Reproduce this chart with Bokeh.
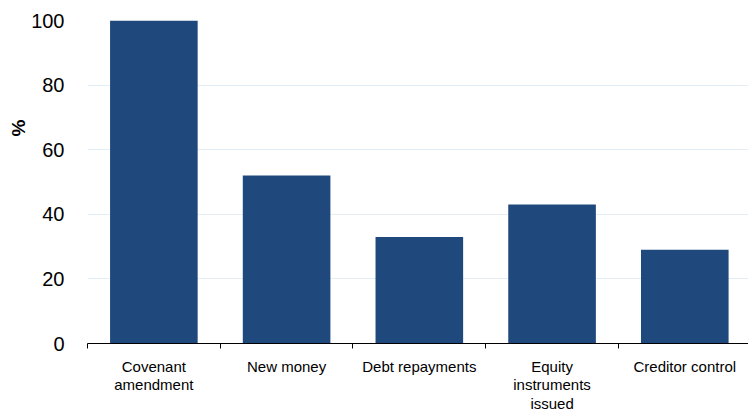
import math
from bokeh.plotting import figure
from bokeh.models import Range1d, FixedTicker, Title, ColumnDataSource
from bokeh.embed import file_html
from bokeh.resources import INLINE

categories = ["Covenant\namendment", "New money", "Debt repayments",
              "Equity\ninstruments\nissued", "Creditor control"]
values = [100, 52, 33, 43, 29]
y_ticks = [0, 20, 40, 60, 80, 100]

xpos = [i + 0.5 for i in range(len(categories))]
src = ColumnDataSource(dict(x=xpos, top=values))

p = figure(width=748, height=414, output_backend="svg", toolbar_location=None,
           x_range=Range1d(0, 4.98), y_range=Range1d(0, 100),
           min_border_left=87, min_border_right=0, min_border_top=20,
           min_border_bottom=71)
p.outline_line_color = None
p.background_fill_color = "white"

p.vbar(x="x", top="top", width=0.66, bottom=0, source=src,
       fill_color="#1f497d", line_color=None)

FONT = "Liberation Sans"

# x axis
xa = p.xaxis[0]
xa.ticker = FixedTicker(ticks=xpos, minor_ticks=list(range(len(categories) + 1)))
xa.major_label_overrides = {x: c for x, c in zip(xpos, categories)}
xa.major_tick_out = 0
xa.major_tick_in = 0
xa.minor_tick_out = 5
xa.minor_tick_in = 0
xa.minor_tick_line_color = "black"
xa.axis_line_color = "black"
xa.axis_line_width = 1
xa.major_label_text_font = FONT
xa.major_label_text_font_size = "15px"
xa.major_label_text_line_height = 1.1
xa.major_label_text_color = "black"
xa.major_label_standoff = 9

# y axis
ya = p.yaxis[0]
ya.ticker = FixedTicker(ticks=y_ticks)
ya.axis_line_color = None
ya.major_tick_line_color = None
ya.minor_tick_line_color = None
ya.major_label_text_font = FONT
ya.major_label_text_font_size = "20px"
ya.major_label_text_color = "black"
ya.major_label_standoff = 17

p.xgrid.grid_line_color = None
p.ygrid.grid_line_color = "#e3eef6"
p.ygrid.ticker = FixedTicker(ticks=y_ticks[1:])

p.add_layout(Title(text="%", align="right", offset=99, standoff=0,
                   text_font=FONT, text_font_size="19px", text_font_style="bold",
                   text_color="black"), "left")

open("out.html", "w").write(file_html(p, INLINE))
